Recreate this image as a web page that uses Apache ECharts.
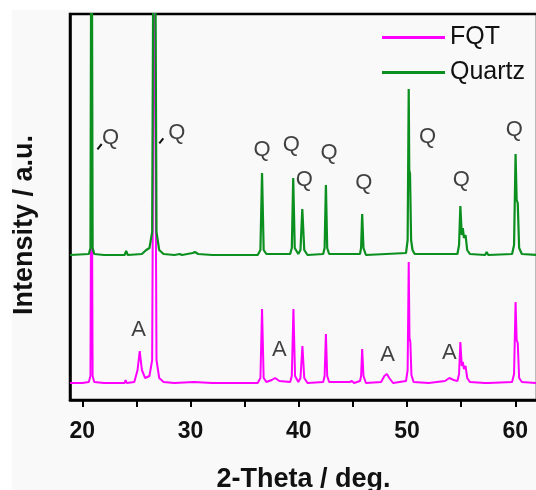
<!DOCTYPE html>
<html>
<head>
<meta charset="utf-8">
<script src="https://cdn.jsdelivr.net/npm/echarts@6.0.0/dist/echarts.min.js"></script>
<style>
body{margin:0;background:#fff;}
#bg{position:absolute;left:12px;top:10px;right:0;bottom:0;background:#f9f9f9;}
#xrd{position:absolute;left:0;top:0;width:536px;height:490px;}
</style>
</head>
<body>
<div id="bg"></div>
<div id="xrd"></div>
<script>
// 2-theta (deg) , intensity (a.u., traces offset)
var fqt = [
	[18.86,17],[20.0,17],[20.6,18],[20.75,24],[20.85,320],[20.95,24],[21.1,18],[22.0,17],
	[23.9,17],[24.0,20],[24.1,17],[24.8,18],[25.1,30],[25.3,49],[25.5,30],[25.8,22],
	[26.2,24],[26.45,40],[26.65,520],[26.85,40],[27.1,22],[27.5,18],[28.5,17],[30.3,18],
	[32.0,17],[36.2,17],[36.45,22],[36.6,91],[36.75,22],[37.0,18],[37.5,20],[37.8,22],
	[38.2,19],[39.2,18],[39.35,24],[39.5,91],[39.65,24],[39.95,18],[40.15,22],[40.33,54],
	[40.5,22],[40.8,17],[42.25,18],[42.38,24],[42.5,66],[42.62,24],[42.8,18],[44.7,18],
	[44.9,19],[45.1,17],[45.65,19],[45.75,24],[45.85,51],[45.97,24],[46.2,17],[47.6,18],
	[47.9,24],[48.13,26],[48.35,22],[48.7,17],[49.9,19],[50.05,30],[50.15,138],[50.22,62],
	[50.3,58],[50.4,25],[50.6,18],[52.0,17],[53.5,19],[53.9,22],[54.3,20],[54.65,19],
	[54.8,26],[54.92,58],[55.05,34],[55.15,38],[55.25,31],[55.4,34],[55.55,22],[55.8,18],
	[57.2,17],[57.35,19],[57.5,17],[59.7,18],[59.88,26],[60.02,98],[60.12,60],[60.22,57],
	[60.35,22],[60.6,18],[62.0,17]
];
var quartz = [
	[18.86,145],[20.6,146],[20.75,152],[20.85,600],[20.95,152],[21.1,146],[22.0,145],
	[23.9,145],[24.05,149],[24.2,145],[25.5,146],[25.9,150],[26.2,152],[26.45,168],
	[26.65,700],[26.85,168],[27.1,150],[27.5,146],[28.5,145],[29.0,146],[29.2,145],
	[30.2,147],[30.4,148],[30.7,146],[32.0,145],[36.2,145],[36.45,150],[36.6,227],
	[36.75,150],[37.0,146],[39.2,146],[39.35,152],[39.48,222],[39.62,152],[39.95,146],
	[40.15,150],[40.32,191],[40.5,150],[40.8,145],[42.25,146],[42.38,152],[42.5,215],
	[42.62,152],[42.8,146],[45.65,146],[45.75,152],[45.85,186],[45.97,152],[46.2,145],
	[49.9,147],[50.05,160],[50.15,311],[50.2,230],[50.27,226],[50.37,160],[50.5,150],
	[50.7,146],[54.65,146],[54.8,155],[54.92,194],[55.05,165],[55.15,172],[55.25,162],
	[55.4,165],[55.55,150],[55.8,146],[57.2,145],[57.35,148],[57.5,145],[59.7,146],
	[59.88,155],[60.02,246],[60.12,200],[60.22,197],[60.35,152],[60.6,146],[62.0,145]
];
var qMarks = [[22.6,262],[28.73,267],[36.6,250],[39.3,255],[40.5,220],[42.8,247],[46.0,217],[51.9,263],[55.0,220],[59.9,270]];
var aMarks = [[25.2,70],[38.2,50],[48.2,45],[53.9,47]];
var leaders = [[[21.39,250.7],[21.79,256]],[[27.11,256.7],[27.48,261.7]]];
var xTicks = [20,25,30,35,40,45,50,55,60];
var xLabels = [20,30,40,50,60];

function labelData(arr, txt){
	var out = [];
	for(var i=0;i<arr.length;i++){
		out.push({name:txt, value:arr[i]});
	}
	return out;
}

var fontF = 'Liberation Sans, Arial, sans-serif';
var myChart = echarts.init(document.getElementById("xrd"));
var option = {
	animation:false,
	textStyle:{fontFamily:fontF},
	grid:{
		left:70, top:14, width:467, height:386,
		outerBoundsMode:'none',
		show:true, borderColor:'#000', borderWidth:2.5, backgroundColor:'transparent'
	},
	legend:{
		data:['FQT','Quartz'],
		orient:'vertical',
		left:377, top:20,
		icon:'rect',
		itemWidth:63, itemHeight:3, itemGap:10,
		textStyle:{fontSize:25, color:'#111', fontFamily:fontF}
	},
	xAxis:{
		type:'value', min:18.86, max:62,
		name:'2-Theta / deg.', nameLocation:'middle', nameGap:66,
		nameTextStyle:{fontSize:27, fontWeight:'bold', color:'#111', fontFamily:fontF},
		axisLine:{show:true, lineStyle:{color:'#000', width:2.5}},
		axisTick:{show:true, length:7, customValues:xTicks, lineStyle:{color:'#000', width:2}},
		axisLabel:{customValues:xLabels, margin:20, fontSize:23, fontWeight:'bold', color:'#111', fontFamily:fontF},
		splitLine:{show:false}
	},
	yAxis:{
		type:'value', min:0, max:386,
		axisLine:{show:true, lineStyle:{color:'#000', width:2.5}},
		axisTick:{show:false}, axisLabel:{show:false}, splitLine:{show:false}
	},
	graphic:[{
		type:'text', x:25, y:225, rotation:Math.PI/2,
		style:{text:'Intensity / a.u.', x:0, y:0, align:'center', verticalAlign:'middle',
			font:'bold 27px ' + fontF, fill:'#111'}
	}],
	series:[
		{name:'FQT', type:'line', data:fqt, showSymbol:false, symbol:'none',
			lineStyle:{color:'#ff00ff', width:2}, itemStyle:{color:'#ff00ff'}},
		{name:'Quartz', type:'line', data:quartz, showSymbol:false, symbol:'none',
			lineStyle:{color:'#0b8f1f', width:2.2}, itemStyle:{color:'#0b8f1f'}},
		{name:'qlab', type:'scatter', data:labelData(qMarks,'Q'), symbolSize:0, silent:true,
			label:{show:true, position:'inside', formatter:'{b}', fontSize:22, color:'#111', fontFamily:fontF}},
		{name:'alab', type:'scatter', data:labelData(aMarks,'A'), symbolSize:0, silent:true,
			label:{show:true, position:'inside', formatter:'{b}', fontSize:22, color:'#111', fontFamily:fontF}},
		{name:'lead', type:'lines', coordinateSystem:'cartesian2d', silent:true,
			data:leaders.map(function(c){return {coords:c};}),
			lineStyle:{color:'#111', width:2, opacity:1}}
	]
};
myChart.setOption(option);
</script>
</body>
</html>
